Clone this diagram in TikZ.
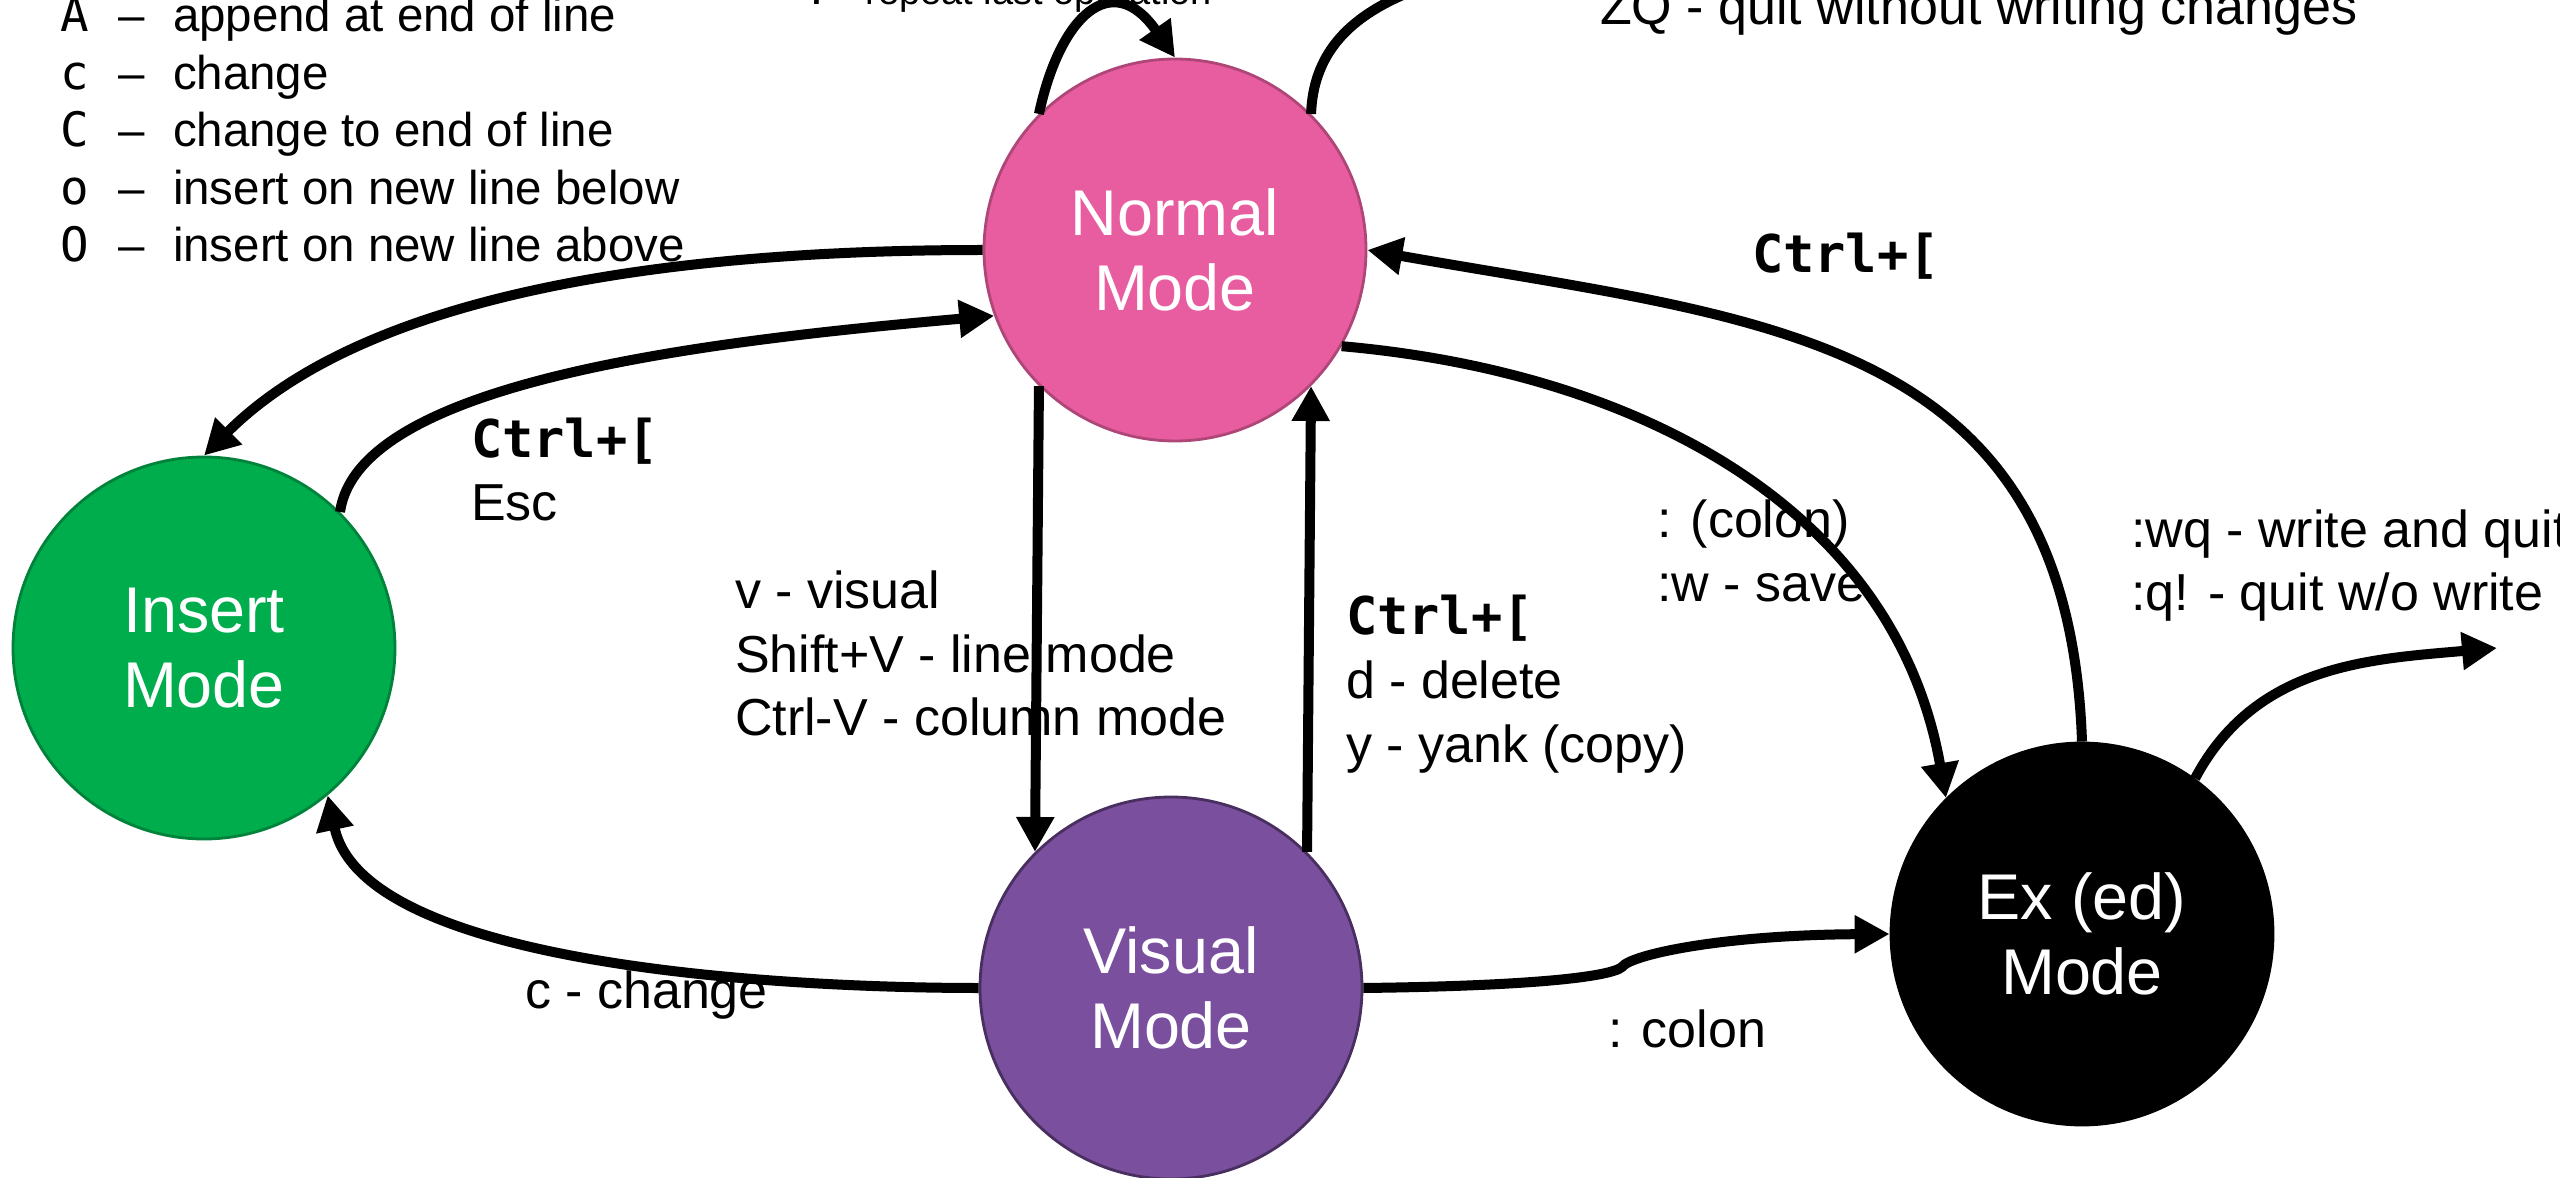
\documentclass[tikz,border=0pt]{standalone}
\usepackage{fontspec}
\setmainfont{Liberation Sans}
\setmonofont{DejaVu Sans Mono}
\usetikzlibrary{arrows.meta}

\definecolor{normalpink}{RGB}{232,93,159}
\definecolor{insertgreen}{RGB}{0,173,77}
\definecolor{visualpurple}{RGB}{122,79,158}

\begin{document}
\begin{tikzpicture}[>={Triangle[length=0.35cm,width=0.36cm]},line width=0.1cm,
    mode node/.style={circle,minimum size=3.82cm,inner sep=0pt,line width=0.8pt,text=white,align=center,font=\fontsize{18.4}{21.3}\selectfont},
    key label/.style={anchor=base west,inner sep=0pt,align=left,font=\fontsize{14.8}{18.2}\selectfont},
    list label/.style={anchor=base west,inner sep=0pt,font=\fontsize{13.5}{16}\selectfont}]
            \path[use as bounding box,clip] (0,0) rectangle (25.6,11.77);

            % the four modes
            \node[mode node,fill=normalpink,draw=normalpink!75!black] (normal) at (11.75,9.27) {Normal\\Mode};
            \node[mode node,fill=insertgreen,draw=insertgreen!75!black] (insert) at (2.04,5.29) {Insert\\Mode};
            \node[mode node,fill=visualpurple,draw=visualpurple!60!black] (visual) at (11.71,1.89) {Visual\\Mode};
            \node[mode node,fill=black,draw=black] (ex) at (20.82,2.43) {Ex (ed)\\Mode};

            \coordinate (zz) at (15.6,12.35);
            \coordinate (quit) at (24.97,5.29);
            \coordinate (bend) at (16.22,2.10);

            % insert commands
            \foreach \k/\t [count=\i] in {A/append at end of line,c/change,C/change to end of line,o/insert on new line below,O/insert on new line above}{
                \node[list label,font=\ttfamily\fontsize{13.5}{16}\selectfont] (key\i) at (0.55,{11.45-0.575*(\i-1)}) {\k};
                \node[list label] (dash\i) at (1.13,{11.45-0.575*(\i-1)}) {–};
                \node[list label] (item\i) at (1.68,{11.45-0.575*(\i-1)}) {\t};
            }

            % labels sit on the baseline of their last line
            \node[key label,font=\fontsize{10.8}{13}\selectfont] (dotlbl) at (8.0,11.72) {\texttt{.}\quad repeat last operation};
            \node[key label] (zqlbl) at (15.95,11.52) {ZQ - quit without writing changes};
            \node[key label] (exctrl) at (17.47,9.04) {\ttfamily\bfseries Ctrl+[};
            \node[key label] (esclbl) at (4.66,6.56) {{\ttfamily\bfseries Ctrl+[}\\Esc};
            \node[key label] (vislbl) at (7.30,4.41) {v - visual\\Shift+V - line mode\\Ctrl-V - column mode};
            \node[key label] (backlbl) at (13.41,4.15) {{\ttfamily\bfseries Ctrl+[}\\d - delete\\y - yank (copy)};
            \node[key label] (savelbl) at (16.52,5.76) {: (colon)\\:w - save};
            \node[key label] (wqlbl) at (21.26,5.66) {:wq - write and quit\\:q! - quit w/o write};
            \node[key label] (changelbl) at (5.20,1.69) {c - change};
            \node[key label] (colonlbl) at (16.03,1.30) {: colon};

            \path[->]
                (normal.135) edge[out=78,in=125,out distance=1cm,in distance=1.1cm] (normal.north)
                (normal.45) edge[out=88,in=200] (zz)
                (normal.west) edge[out=180,in=45,looseness=0.8] (insert.north)
                (insert.45) edge[out=82,in=185,out distance=1.3cm,in distance=3cm] (normal.200)
                (normal.225) edge (visual.135)
                (visual.45) edge (normal.-45)
                (normal.-30) edge[out=-5,in=100] (ex.135)
                (ex.north) edge[out=92,in=-10,looseness=1.2] (normal.east)
                (visual.west) edge[out=180,in=-78,looseness=0.67] (insert.-50)
                (ex.54) edge[out=62,in=185] (quit)
            ;
            \draw[->] (visual.east) .. controls (15.3,1.91) and (16.1,2.0) .. (bend) .. controls (16.3,2.22) and (17.2,2.42) .. (ex.west);
\end{tikzpicture}
\end{document}
